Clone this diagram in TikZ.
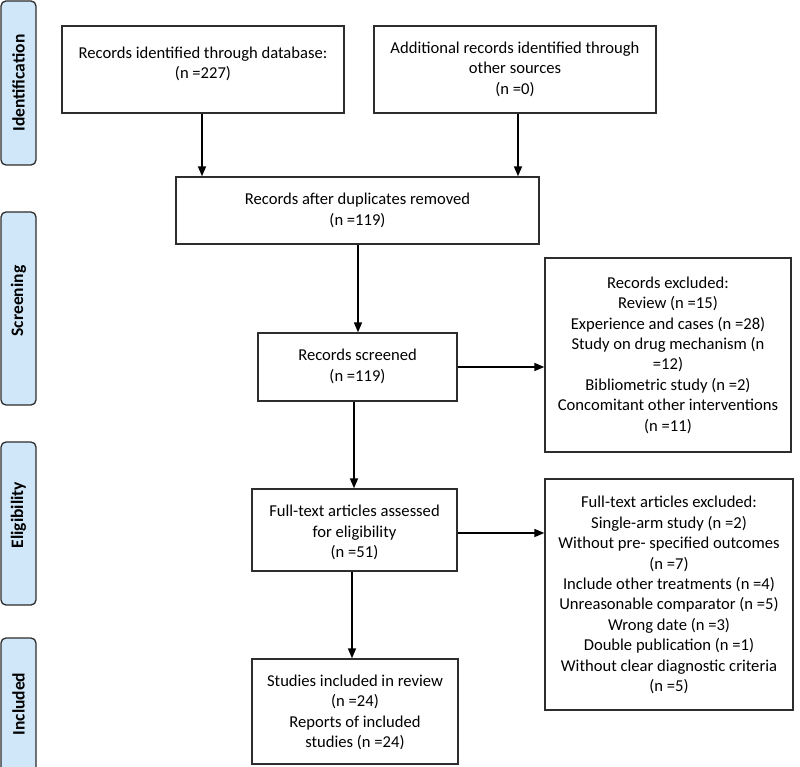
\documentclass[tikz,border=0pt]{standalone}
\usepackage{fontspec}
\setmainfont{Carlito}
\usetikzlibrary{arrows.meta}
\definecolor{barblue}{RGB}{207,231,248}
\definecolor{edge}{RGB}{45,45,45}
\begin{document}
\begin{tikzpicture}[x=1pt,y=-1pt,
  box/.style={draw=edge, line width=1.3pt, inner sep=0pt},
  boxtxt/.style={align=center, font=\fontsize{16.6}{20.4}\selectfont, inner sep=0pt},
  bar/.style={draw=edge, fill=barblue, rounded corners=5pt, line width=1.3pt, inner sep=0pt, minimum width=35pt},
  bartxt/.style={rotate=90, font=\fontsize{17.5}{21}\selectfont\bfseries, inner sep=0pt},
  arr/.style={-{Triangle[length=10pt,width=8pt]}, line width=1.6pt, draw=black}
]
\useasboundingbox (0,0) rectangle (800,767);
\fill[white] (0,0) rectangle (800,767);

% side bars
\node[bar, minimum height=164pt] (sb1) at (18.5,83) {};
\node[bartxt] (sb1t) at (18.5,83) {Identification};
\node[bar, minimum height=193pt] (sb2) at (18.5,308.5) {};
\node[bartxt] (sb2t) at (18.5,301) {Screening};
\node[bar, minimum height=163pt] (sb3) at (18.5,523.5) {};
\node[bartxt] (sb3t) at (18.5,515) {Eligibility};
\node[bar, minimum height=150pt] (sb4) at (18.5,713) {};
\node[bartxt] (sb4t) at (18.5,704) {Included};

% boxes
\node[box, minimum width=282pt, minimum height=87pt] (b1) at (203,69.5) {};
\node[boxtxt] (b1t) at (203,64) {Records identified through database:\\(n =227)};
\node[box, minimum width=282pt, minimum height=87pt] (b2) at (515,69.5) {};
\node[boxtxt] (b2t) at (515,69) {Additional records identified through\\other sources\\(n =0)};
\node[box, minimum width=363pt, minimum height=67pt] (b3) at (357.5,210.5) {};
\node[boxtxt] (b3t) at (357.5,210.5) {Records after duplicates removed\\(n =119)};
\node[box, minimum width=199pt, minimum height=68pt] (b4) at (357.5,367) {};
\node[boxtxt] (b4t) at (357.5,366.5) {Records screened\\(n =119)};
\node[box, minimum width=246pt, minimum height=194pt] (b5) at (668,355) {};
\node[boxtxt] (b5t) at (668,355) {Records excluded:\\Review (n =15)\\Experience and cases (n =28)\\Study on drug mechanism (n\\=12)\\Bibliometric study (n =2)\\Concomitant other interventions\\(n =11)};
\node[box, minimum width=205pt, minimum height=82pt] (b6) at (354.5,530) {};
\node[boxtxt] (b6t) at (354.5,532.5) {Full-text articles assessed\\for eligibility\\(n =51)};
\node[box, minimum width=248pt, minimum height=231pt] (b7) at (669,594.5) {};
\node[boxtxt] (b7t) at (669,595) {Full-text articles excluded:\\Single-arm study (n =2)\\Without pre- specified outcomes\\(n =7)\\Include other treatments (n =4)\\Unreasonable comparator (n =5)\\Wrong date (n =3)\\Double publication (n =1)\\Without clear diagnostic criteria\\(n =5)};
\node[box, minimum width=206pt, minimum height=105pt] (b8) at (355,711.5) {};
\node[boxtxt] (b8t) at (355,712.5) {Studies included in review\\(n =24)\\Reports of included\\studies (n =24)};

% connectors
\draw[arr] ([xshift=-1pt]b1.south) -- ([xshift=-1pt]b1.south |- b3.north);
\draw[arr] ([xshift=3pt]b2.south) -- ([xshift=3pt]b2.south |- b3.north);
\draw[arr] ([xshift=0.5pt]b3.south) -- ([xshift=0.5pt]b3.south |- b4.north);
\draw[arr] ([xshift=-0.5pt]b6.north |- b4.south) -- ([xshift=-0.5pt]b6.north);
\draw[arr] (b4.east) -- (b4.east -| b5.west);
\draw[arr] ([yshift=-3pt]b6.east) -- ([yshift=-3pt]b6.east -| b7.west);
\draw[arr] ([xshift=-2.5pt]b6.south) -- ([xshift=-2.5pt]b6.south |- b8.north);
\end{tikzpicture}
\end{document}
